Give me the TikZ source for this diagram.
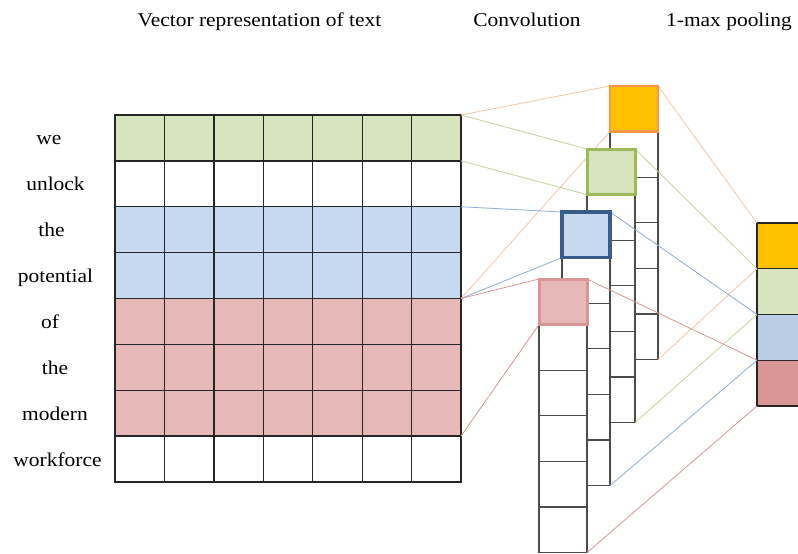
\documentclass[tikz,border=0pt]{standalone}
\usepackage{fontspec}
\setmainfont{Liberation Serif}[FakeStretch=1.1]
\definecolor{gfill}{HTML}{D7E4BD}
\definecolor{bfill}{HTML}{C6D9F1}
\definecolor{rfill}{HTML}{E6B9B8}
\definecolor{ofill}{HTML}{FFC000}
\definecolor{odraw}{HTML}{F79646}
\definecolor{gdraw}{HTML}{9BBB59}
\definecolor{bdraw}{HTML}{385D8A}
\definecolor{rdraw}{HTML}{D99694}
\definecolor{pbfill}{HTML}{B9CDE5}
\definecolor{prfill}{HTML}{D99694}
\definecolor{oline}{HTML}{F6C7A4}
\definecolor{gline}{HTML}{C3D69B}
\definecolor{bline}{HTML}{8EAED6}
\definecolor{rline}{HTML}{D99694}
\tikzset{
  mcell/.style={draw=black!85, line width=1.3pt, minimum width=49.43pt, minimum height=45.875pt, inner sep=0pt, outer sep=0pt, anchor=north west},
  ccell/.style={draw=black!70, fill=white, line width=1.2pt, minimum width=48pt, minimum height=45.6pt, inner sep=0pt, outer sep=0pt, anchor=north west},
  pcell/.style={draw=black!85, line width=1.3pt, minimum width=46pt, minimum height=45.75pt, inner sep=0pt, outer sep=0pt, anchor=north west},
  word/.style={anchor=base, inner sep=0pt, font=\fontsize{19.5}{23}\selectfont},
  title/.style={anchor=base, inner sep=0pt, font=\fontsize{19.5}{23}\selectfont},
  thin/.style={line width=0.8pt},
}
\begin{document}
\begin{tikzpicture}[x=1pt,y=-1pt]
\clip (0,0) rectangle (798,554);
\fill[white] (0,0) rectangle (798,554);
% titles
\node[title] (t1) at (259.5,26) {Vector representation of text};
\node[title] (t2) at (527,26) {Convolution};
\node[title] (t3) at (729,26) {1-max pooling};
% matrix
\foreach \r/\col in {0/gfill,1/white,2/bfill,3/bfill,4/rfill,5/rfill,6/rfill,7/white}
  \foreach \c in {0,...,6}
    \node[mcell, fill=\col] (m\r-\c) at ({115+\c*49.43},{115+\r*45.875}) {};
% words
\foreach \i/\w/\x in {0/we/49,1/unlock/55.5,2/the/51.5,3/potential/55.5,4/of/50,5/the/55,6/modern/55,7/workforce/57.5}
  \node[word] (l\i) at (\x,{115+\i*45.875+22.9+7}) {\w};
% convolution columns (back to front)
\foreach \n/\x/\y in {o/610/86,g/587/149,b/562/212,k/539/279}
  \foreach \i in {0,...,5}
    \node[ccell] (\n\i) at (\x,{\y+\i*45.6}) {};
% pooling
\foreach \i/\col in {0/ofill,1/gfill,2/pbfill,3/prfill}
  \node[pcell, fill=\col] (p\i) at (757,{223+\i*45.75}) {};
% connectors
\draw[thin, oline] (m0-6.north east) -- (o0.north west);
\draw[thin, oline] (m3-6.south east) -- (o0.south west);
\draw[thin, oline] (o0.north east) -- (p0.north west);
\draw[thin, oline] (o5.south east) -- (p0.south west);
\draw[thin, gline] (m0-6.north east) -- (g0.north west);
\draw[thin, gline] (m0-6.south east) -- (g0.south west);
\draw[thin, gline] (g0.north east) -- (p1.north west);
\draw[thin, gline] (g5.south east) -- (p1.south west);
\draw[thin, bline] (m2-6.north east) -- (b0.north west);
\draw[thin, bline] (m3-6.south east) -- (b0.south west);
\draw[thin, bline] (b0.north east) -- (p2.north west);
\draw[thin, bline] (b5.south east) -- (p2.south west);
\draw[thin, rline] (m4-6.north east) -- (k0.north west);
\draw[thin, rline] (m6-6.south east) -- (k0.south west);
\draw[thin, rline] (k0.north east) -- (p3.north west);
\draw[thin, rline] (k5.south east) -- (p3.south west);
% highlighted filter squares
\draw[fill=ofill, draw=odraw, line width=2.5pt] (o0.north west) rectangle (o0.south east);
\draw[fill=gfill, draw=gdraw, line width=3pt] (g0.north west) rectangle (g0.south east);
\draw[fill=bfill, draw=bdraw, line width=3.5pt] (b0.north west) rectangle (b0.south east);
\draw[fill=rfill, draw=rdraw, line width=3pt] (k0.north west) rectangle (k0.south east);
\end{tikzpicture}
\end{document}
